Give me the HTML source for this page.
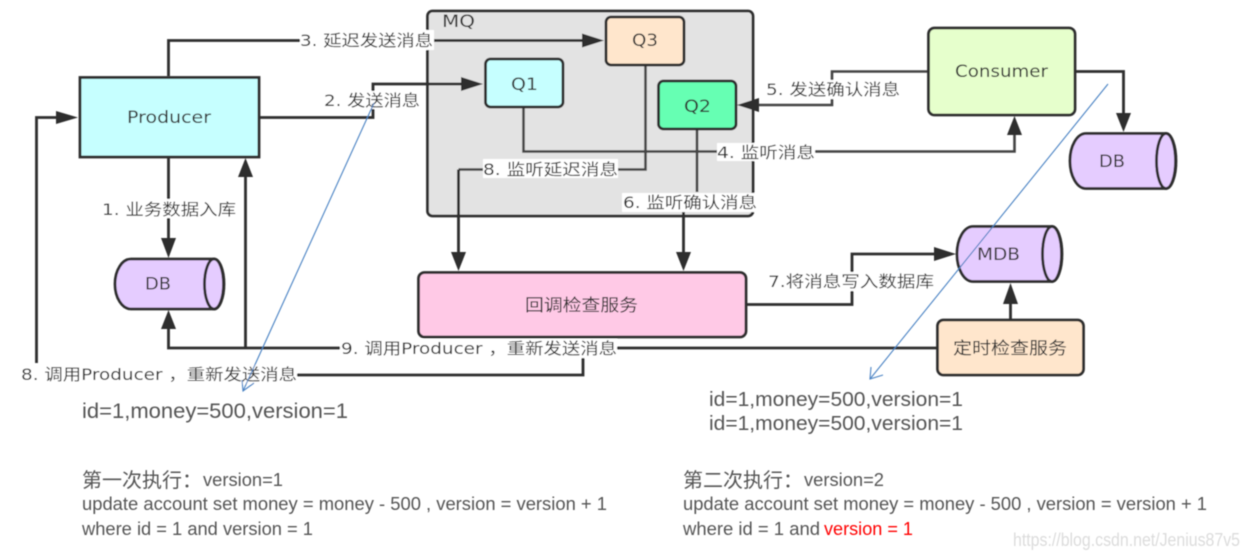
<!DOCTYPE html>
<html>
<head>
<meta charset="utf-8">
<style>
html,body{margin:0;padding:0;background:#fff;width:1249px;height:558px;overflow:hidden}
svg{display:block}
.b{fill:none;stroke:#2e2e2e;stroke-width:2.8}
.l{fill:none;stroke:#2e2e2e;stroke-width:2.8}
.i{fill:none;stroke:#444;stroke-width:2.6}
.a{fill:#2e2e2e;stroke:none}
.t{font-family:"DejaVu Sans","Noto Sans CJK SC",sans-serif;font-size:16px;fill:#333}
.n{font-family:"DejaVu Sans","Noto Sans CJK SC",sans-serif;font-size:17px;fill:#333}
.m{font-family:"Liberation Sans","Noto Sans CJK SC",sans-serif;fill:#555}
.bg{fill:#fff}
</style>
</head>
<body>
<svg width="1249" height="558" viewBox="0 0 1249 558" xmlns="http://www.w3.org/2000/svg">
<defs>
<filter id="s" filterUnits="userSpaceOnUse" x="0" y="0" width="1249" height="558"><feGaussianBlur stdDeviation="0.4"/></filter>
</defs>
<g filter="url(#s)">
<!-- MQ -->
<rect x="427.500" y="11" width="325.500" height="205" rx="5" fill="#e3e3e3" stroke="#2e2e2e" stroke-width="2.8"/>
<text class="n" x="442" y="27" textLength="33" lengthAdjust="spacingAndGlyphs">MQ</text>

<!-- connectors -->
<path class="l" d="M168.500 76V40.500H597"/>
<path class="l" d="M259 117.500H373V84H476"/>
<path class="l" d="M168.500 157V250"/>
<path class="l" d="M245.500 348V168"/>
<path class="l" d="M340 348H168.500V320"/>
<path class="l" d="M36.500 363V117.500H68"/>
<path class="l" d="M297 375H583V356"/>
<path class="l" d="M617 348H937"/>
<path class="i" d="M523.500 107V151.500H1014.500V125"/>
<path class="i" d="M645.500 65V169.500H458.500"/>
<path class="l" d="M458.500 169.500V262"/>
<path class="i" d="M697 129V192"/>
<path class="l" d="M683.500 212V262"/>
<path class="i" d="M928 71.500H832V105H750"/>
<path class="l" d="M1075 71.500H1123.500V124"/>
<path class="l" d="M746 304.500H852V254H948"/>
<path class="l" d="M1010.500 320V292"/>

<!-- arrowheads -->
<polygon class="a" points="604,40.500 582,33.500 582,47.500"/>
<polygon class="a" points="483,84 461,77 461,91"/>
<polygon class="a" points="168.500,258 161,238 176,238"/>
<polygon class="a" points="245.500,158 238,177 253,177"/>
<polygon class="a" points="168.500,310 161,329 176,329"/>
<polygon class="a" points="78,117.500 56,111 56,124"/>
<polygon class="a" points="1014.500,116 1007,135 1022,135"/>
<polygon class="a" points="458.500,271 451,252 466,252"/>
<polygon class="a" points="683.500,271 676,252 691,252"/>
<polygon class="a" points="737,105 759,98 759,112"/>
<polygon class="a" points="1123.500,132 1116,113 1131,113"/>
<polygon class="a" points="956,254 934,247 934,261"/>
<polygon class="a" points="1010.500,283 1003,304 1018,304"/>

<!-- nodes -->
<rect class="b" x="80" y="77.500" width="179" height="79.500" style="fill:#c6ffff"/>
<rect class="b" x="485.500" y="59" width="77.500" height="48" rx="5" style="fill:#c6ffff"/>
<rect class="b" x="606" y="17" width="78" height="48" rx="5" style="fill:#ffe6cc"/>
<rect class="b" x="658.500" y="81" width="77.500" height="48" rx="5" style="fill:#66ffb3"/>
<rect class="b" x="928.500" y="28" width="146.500" height="87" rx="6" style="fill:#e6ffcc"/>
<rect class="b" x="418.500" y="272.500" width="327.500" height="64.500" rx="6" style="fill:#ffc9e6"/>
<rect class="b" x="937.500" y="320" width="146" height="55" rx="6" style="fill:#ffe6cc"/>

<!-- cylinders -->
<g stroke="#2e2e2e" stroke-width="2.8" fill="#e5ccff">
<path d="M131 259H214A10 25 0 0 1 214 309H131A16 25 0 0 1 131 259Z"/>
<ellipse cx="214" cy="284" rx="9.500" ry="25"/>
<path d="M1086 133.500H1166A10 27.500 0 0 1 1166 188.500H1086A16 27.500 0 0 1 1086 133.500Z"/>
<ellipse cx="1166" cy="161" rx="9.500" ry="27.500"/>
<path d="M973 226.500H1052A10 27.500 0 0 1 1052 281.500H973A16 27.500 0 0 1 973 226.500Z"/>
<ellipse cx="1052" cy="254" rx="9.500" ry="27.500"/>
</g>

<!-- label backgrounds -->
<rect class="bg" x="300" y="30" width="134" height="20"/>
<rect class="bg" x="323" y="91" width="97" height="18"/>
<rect class="bg" x="102" y="199" width="134" height="19"/>
<rect class="bg" x="717" y="143" width="98" height="18"/>
<rect class="bg" x="483" y="159" width="135" height="19"/>
<rect class="bg" x="622" y="193" width="136" height="19"/>
<rect class="bg" x="766" y="80" width="134" height="19"/>
<rect class="bg" x="768" y="272" width="166" height="19"/>
<rect class="bg" x="340" y="339" width="277" height="19"/>
<rect class="bg" x="21" y="365" width="276" height="19"/>

<!-- node text -->
<text class="n" x="127" y="123" textLength="84" lengthAdjust="spacingAndGlyphs">Producer</text>
<text class="n" x="511" y="90" textLength="27" lengthAdjust="spacingAndGlyphs">Q1</text>
<text class="n" x="632" y="46" textLength="26" lengthAdjust="spacingAndGlyphs">Q3</text>
<text class="n" x="684" y="112" textLength="27" lengthAdjust="spacingAndGlyphs">Q2</text>
<text class="n" x="955" y="77" textLength="93" lengthAdjust="spacingAndGlyphs">Consumer</text>
<text class="n" x="145" y="289.500" textLength="26" lengthAdjust="spacingAndGlyphs">DB</text>
<text class="n" x="1099" y="167" textLength="26" lengthAdjust="spacingAndGlyphs">DB</text>
<text class="n" x="977" y="260" textLength="43" lengthAdjust="spacingAndGlyphs">MDB</text>
<text class="n" x="525" y="311" textLength="113" lengthAdjust="spacingAndGlyphs">回调检查服务</text>
<text class="n" x="953" y="354" textLength="114" lengthAdjust="spacingAndGlyphs">定时检查服务</text>

<!-- connector labels -->
<text class="t" x="300" y="46" textLength="133" lengthAdjust="spacingAndGlyphs">3. 延迟发送消息</text>
<text class="t" x="324" y="106" textLength="96" lengthAdjust="spacingAndGlyphs">2. 发送消息</text>
<text class="t" x="102" y="215" textLength="134" lengthAdjust="spacingAndGlyphs">1. 业务数据入库</text>
<text class="t" x="717" y="158" textLength="98" lengthAdjust="spacingAndGlyphs">4. 监听消息</text>
<text class="t" x="483" y="175" textLength="135" lengthAdjust="spacingAndGlyphs">8. 监听延迟消息</text>
<text class="t" x="623" y="208" textLength="134" lengthAdjust="spacingAndGlyphs">6. 监听确认消息</text>
<text class="t" x="766" y="95" textLength="134" lengthAdjust="spacingAndGlyphs">5. 发送确认消息</text>
<text class="t" x="768" y="287" textLength="166" lengthAdjust="spacingAndGlyphs">7.将消息写入数据库</text>
<text class="t" x="341" y="354" textLength="276" lengthAdjust="spacingAndGlyphs">9. 调用Producer ，重新发送消息</text>
<text class="t" x="21" y="380" textLength="276" lengthAdjust="spacingAndGlyphs">8. 调用Producer ，重新发送消息</text>

<!-- blue annotation arrows -->
<g fill="none" stroke="#4a82c3" stroke-width="1.1">
<path d="M374 103L243 391"/>
<path d="M242 380L243 391L254 383"/>
<path d="M1108 84L870 379"/>
<path d="M871 367L870 379L883 375"/>
</g>

<!-- bottom text -->
<text class="m" x="82" y="418" font-size="21" textLength="266" lengthAdjust="spacingAndGlyphs">id=1,money=500,version=1</text>
<text class="m" x="709" y="406" font-size="20" textLength="254" lengthAdjust="spacingAndGlyphs">id=1,money=500,version=1</text>
<text class="m" x="709" y="430" font-size="20" textLength="254" lengthAdjust="spacingAndGlyphs">id=1,money=500,version=1</text>

<text class="m" x="82" y="487" font-size="20">第一次执行：</text>
<text class="m" x="203" y="486" font-size="18" textLength="80" lengthAdjust="spacingAndGlyphs">version=1</text>
<text class="m" x="82" y="510" font-size="18" textLength="525" lengthAdjust="spacingAndGlyphs">update account set money = money - 500 , version = version + 1</text>
<text class="m" x="82" y="535" font-size="18" textLength="231" lengthAdjust="spacingAndGlyphs">where id = 1 and version = 1</text>

<text class="m" x="683" y="487" font-size="20">第二次执行：</text>
<text class="m" x="804" y="486" font-size="18" textLength="80" lengthAdjust="spacingAndGlyphs">version=2</text>
<text class="m" x="683" y="510" font-size="18" textLength="524" lengthAdjust="spacingAndGlyphs">update account set money = money - 500 , version = version + 1</text>
<text class="m" x="683" y="535" font-size="18" textLength="137" lengthAdjust="spacingAndGlyphs">where id = 1 and</text>
<text class="m" x="824" y="535" font-size="18" textLength="89" lengthAdjust="spacingAndGlyphs" style="fill:#f00">version = 1</text>

<text x="1013" y="546" font-family="'Liberation Sans',sans-serif" font-size="18" fill="#dcdcdc" textLength="227" lengthAdjust="spacingAndGlyphs">https://blog.csdn.net/Jenius87v5</text>
</g>
</svg>
</body>
</html>
